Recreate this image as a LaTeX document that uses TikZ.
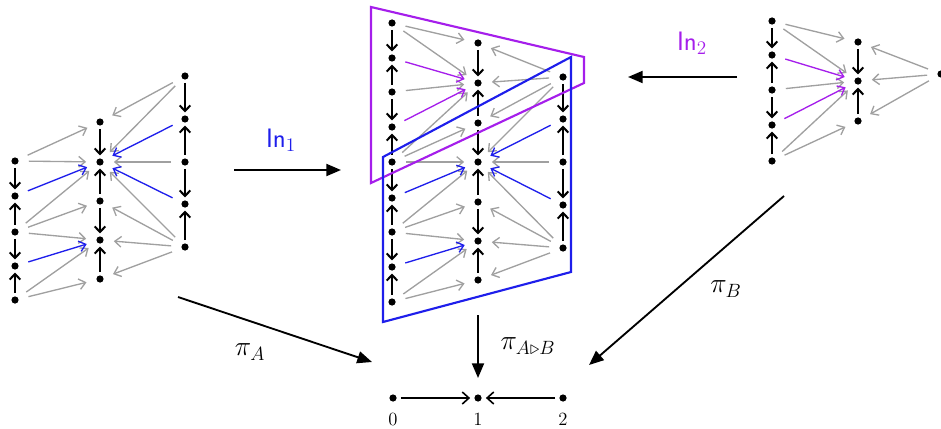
\documentclass[tikz,border=0pt]{standalone}
\usepackage{fontspec}
\usetikzlibrary{arrows.meta}
\definecolor{myblue}{RGB}{30,30,235}
\definecolor{mypurple}{RGB}{165,30,235}
\definecolor{mygray}{RGB}{160,160,160}
\tikzset{
  dot/.style={circle,fill=black,inner sep=0pt,minimum size=5.4pt},
  vert/.style={line width=1.5pt,-{Straight Barb[length=4.2pt,width=8pt]},shorten <=2.2pt,shorten >=2pt},
  gar/.style={mygray,line width=1pt,-{Straight Barb[length=4.8pt,width=8pt]},shorten <=7.5pt,shorten >=7.5pt},
  bar/.style={gar,myblue},
  par/.style={gar,mypurple},
  big/.style={line width=1.4pt,-{Triangle[length=11pt,width=9pt]}},
  botar/.style={line width=1.2pt,-{Straight Barb[length=5pt,width=9pt]},shorten <=3pt,shorten >=3pt},
  lab/.style={font=\fontsize{20}{22}\selectfont\sffamily},
  plab/.style={font=\fontsize{22}{24}\selectfont},
  num/.style={font=\fontsize{14}{16}\selectfont},
  poly/.style={line width=1.6pt,line join=miter}
}
\begin{document}
\begin{tikzpicture}[x=0.75pt,y=-0.75pt]
\useasboundingbox (0,0) rectangle (941,428);
% ---- dots ----
\foreach \n/\x/\y in {AL0/15/161,AL1/15/196,AL2/15/232,AL3/15/266,AL4/15/300,
  AM0/100/122,AM1/100/162,AM2/100/201,AM3/100/240,AM4/100/279,
  AR0/185/76,AR1/185/119,AR2/185/162,AR3/185/204,AR4/185/247,
  CL0/392/23,CL1/392/58,CL2/392/92,CL3/392/127,CL4/392/162,CL5/392/198,CL6/392/232,CL7/392/267,CL8/392/302,
  CM0/478/43,CM1/478/83,CM2/478/123,CM3/478/162,CM4/478/202,CM5/478/241,CM6/478/280,
  CR0/563/77,CR1/563/119,CR2/563/162,CR3/563/205,CR4/563/248,
  BL0/772/21,BL1/772/55,BL2/772/90,BL3/772/125,BL4/772/161,
  BM0/858/42,BM1/858/81,BM2/858/121,
  BR/941/74,
  D0/393/398,D1/478/398,D2/563/398}
  {\node[dot] (\n) at (\x,\y) {};}
% ---- vertical arrows ----
\foreach \s/\t in {AL0/AL1,AL2/AL1,AL2/AL3,AL4/AL3,
  AM0/AM1,AM2/AM1,AM2/AM3,AM4/AM3,
  AR0/AR1,AR2/AR1,AR2/AR3,AR4/AR3,
  CL0/CL1,CL2/CL1,CL2/CL3,CL4/CL3,CL4/CL5,CL6/CL5,CL6/CL7,CL8/CL7,
  CM0/CM1,CM2/CM1,CM2/CM3,CM4/CM3,CM4/CM5,CM6/CM5,
  CR0/CR1,CR2/CR1,CR2/CR3,CR4/CR3,
  BL0/BL1,BL2/BL1,BL2/BL3,BL4/BL3,
  BM0/BM1,BM2/BM1}
  {\draw[vert] (\s) -- (\t);}
% ---- gray arrows ----
\foreach \s/\t in {AL0/AM0,AL0/AM1,AL2/AM1,AL2/AM2,AL2/AM3,AL4/AM3,AL4/AM4,
  AR0/AM0,AR0/AM1,AR2/AM1,AR4/AM1,AR4/AM2,AR4/AM3,AR4/AM4,
  CL0/CM0,CL0/CM1,CL2/CM1,CL4/CM1,CL4/CM2,CL4/CM3,CL6/CM3,CL6/CM4,CL6/CM5,CL8/CM5,CL8/CM6,
  CR0/CM0,CR0/CM1,CR0/CM2,CR0/CM3,CR2/CM3,CR4/CM3,CR4/CM4,CR4/CM5,CR4/CM6,
  BL0/BM0,BL0/BM1,BL2/BM1,BL4/BM1,BL4/BM2,BR/BM0,BR/BM1,BR/BM2}
  {\draw[gar] (\s) -- (\t);}
% ---- blue arrows ----
\foreach \s/\t in {AL1/AM1,AL3/AM3,AR1/AM1,AR3/AM1,CL5/CM3,CL7/CM5,CR1/CM3,CR3/CM3}
  {\draw[bar] (\s) -- (\t);}
% ---- purple arrows ----
\foreach \s/\t in {CL1/CM1,CL3/CM1,BL1/BM1,BL3/BM1}
  {\draw[par] (\s) -- (\t);}
% ---- polygons ----
\draw[poly,mypurple] (371,7) -- (584,57) -- (584,83) -- (371,183) -- cycle;
\draw[poly,myblue] (383,157) -- (571,57) -- (571,272) -- (383,322) -- cycle;
% ---- bottom ----
\draw[botar] (D0) -- (D1);
\draw[botar] (D2) -- (D1);
\node[num] (n0) at (393,419) {0};
\node[num] (n1) at (478,419) {1};
\node[num] (n2) at (563,419) {2};
% ---- big arrows ----
\coordinate (in1s) at (234,170); \coordinate (in1e) at (341,170);
\coordinate (in2s) at (737,77);  \coordinate (in2e) at (628,77);
\coordinate (pAs) at (178,297);  \coordinate (pAe) at (372,362);
\coordinate (pCs) at (478,315);  \coordinate (pCe) at (478,378);
\coordinate (pBs) at (784,196);  \coordinate (pBe) at (589,365);
\draw[big] (in1s) -- (in1e);
\draw[big] (in2s) -- (in2e);
\draw[big] (pAs) -- (pAe);
\draw[big] (pCs) -- (pCe);
\draw[big] (pBs) -- (pBe);
\node[lab,text=myblue] (l1) at (281,140) {In$_1$};
\node[lab,text=mypurple] (l2) at (692,43) {In$_2$};
\node[plab] (lA) at (250,352) {$\pi_A$};
\node[plab] (lC) at (528,346) {$\pi_{A\triangleright B}$};
\node[plab] (lB) at (726,289) {$\pi_B$};
\end{tikzpicture}
\end{document}
